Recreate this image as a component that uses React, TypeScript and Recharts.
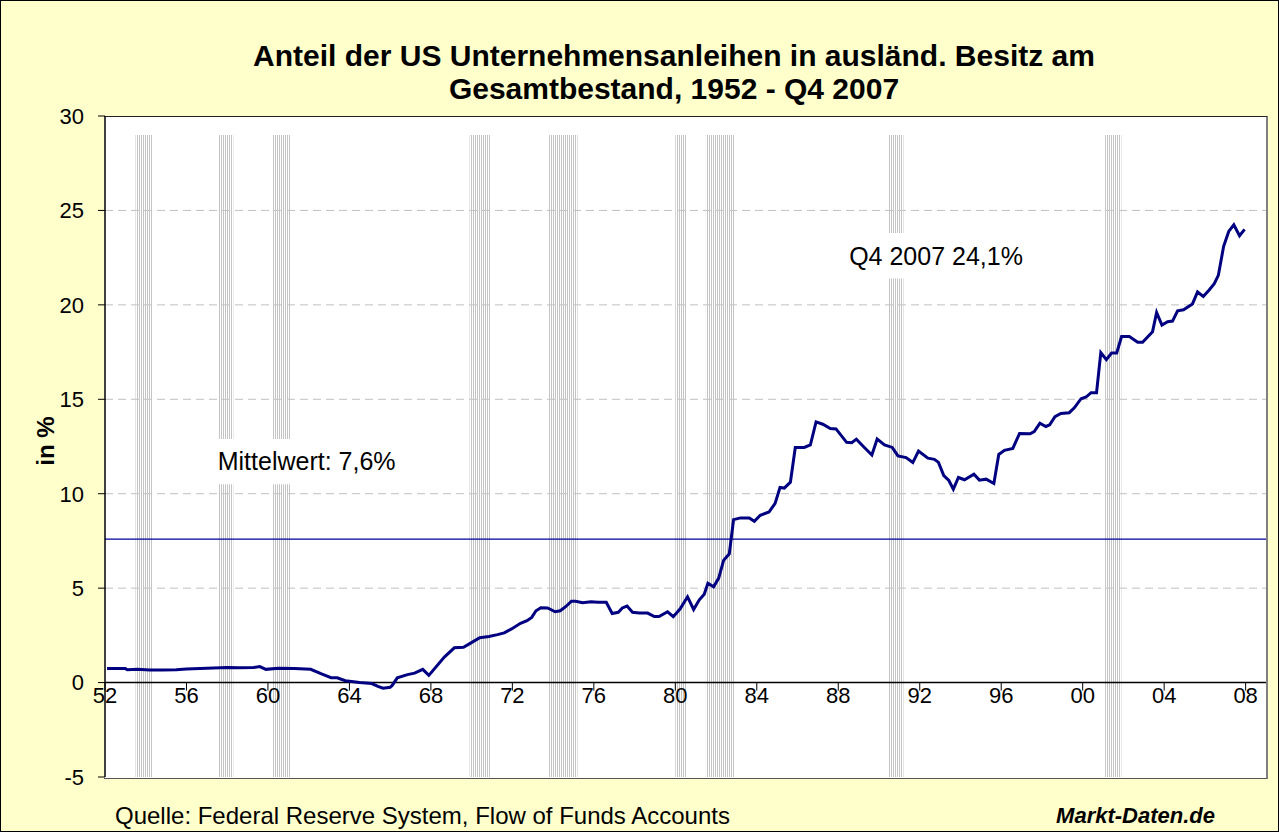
import React from 'react'
import {
  LineChart,
  Line,
  XAxis,
  YAxis,
  CartesianGrid,
  ReferenceArea,
  ReferenceLine,
} from 'recharts'

// quarter position (year fraction) and share of foreign holdings in %
const quarters = [
  1952.1, 1952.6, 1953.0, 1953.1, 1953.6, 1954.2, 1954.8, 1955.5, 1956.0, 1957.0,
  1958.0, 1958.6, 1959.3, 1959.6, 1959.9, 1960.5, 1961.3, 1962.1, 1962.6, 1963.1,
  1963.4, 1963.8, 1964.5, 1965.1, 1965.4, 1965.65, 1966.0, 1966.1, 1966.35, 1966.85,
  1967.2, 1967.6, 1967.9, 1968.66, 1969.15, 1969.6, 1969.97, 1970.4, 1970.85, 1971.27,
  1971.6, 1971.96, 1972.4, 1972.72, 1972.95, 1973.16, 1973.4, 1973.73, 1974.1, 1974.35,
  1974.63, 1974.9, 1975.1, 1975.45, 1975.86, 1976.2, 1976.61, 1976.9, 1977.2, 1977.4,
  1977.63, 1977.9, 1978.23, 1978.64, 1978.97, 1979.2, 1979.62, 1979.9, 1980.23, 1980.6,
  1980.9, 1981.17, 1981.42, 1981.6, 1981.88, 1982.13, 1982.37, 1982.65, 1982.86, 1983.2,
  1983.63, 1983.88, 1984.17, 1984.6, 1984.9, 1985.14, 1985.35, 1985.65, 1985.89, 1986.33,
  1986.63, 1986.91, 1987.24, 1987.61, 1987.89, 1988.41, 1988.66, 1988.89, 1989.28, 1989.65,
  1989.91, 1990.27, 1990.65, 1990.93, 1991.33, 1991.66, 1991.94, 1992.4, 1992.72, 1992.92,
  1993.18, 1993.43, 1993.65, 1993.9, 1994.2, 1994.66, 1994.93, 1995.26, 1995.64, 1995.88,
  1996.16, 1996.57, 1996.9, 1997.42, 1997.62, 1997.9, 1998.19, 1998.38, 1998.64, 1998.93,
  1999.34, 1999.59, 1999.92, 2000.17, 2000.41, 2000.68, 2000.89, 2001.16, 2001.42, 2001.67,
  2001.91, 2002.29, 2002.7, 2002.94, 2003.43, 2003.63, 2003.89, 2004.17, 2004.41, 2004.66,
  2004.95, 2005.39, 2005.64, 2005.92, 2006.21, 2006.46, 2006.66, 2006.92, 2007.17, 2007.42,
  2007.7, 2007.95,
]
const shares = [
  0.74, 0.74, 0.74, 0.68, 0.7, 0.66, 0.66, 0.68, 0.72, 0.76,
  0.8, 0.78, 0.8, 0.85, 0.7, 0.76, 0.74, 0.7, 0.47, 0.26,
  0.25, 0.1, 0.0, -0.05, -0.2, -0.3, -0.25, -0.15, 0.25, 0.42,
  0.5, 0.7, 0.38, 1.35, 1.84, 1.87, 2.1, 2.37, 2.44, 2.54,
  2.63, 2.84, 3.14, 3.28, 3.45, 3.8, 3.96, 3.95, 3.75, 3.8,
  4.03, 4.31, 4.31, 4.23, 4.28, 4.25, 4.25, 3.66, 3.72, 3.95,
  4.05, 3.72, 3.68, 3.68, 3.5, 3.5, 3.75, 3.49, 3.89, 4.54,
  3.87, 4.37, 4.68, 5.26, 5.07, 5.53, 6.47, 6.82, 8.63, 8.72,
  8.72, 8.54, 8.86, 9.03, 9.49, 10.33, 10.3, 10.61, 12.45, 12.45,
  12.58, 13.8, 13.68, 13.45, 13.43, 12.72, 12.7, 12.89, 12.45, 12.05,
  12.89, 12.58, 12.45, 12.0, 11.91, 11.65, 12.26, 11.88, 11.82, 11.66,
  10.96, 10.7, 10.24, 10.86, 10.74, 11.03, 10.72, 10.77, 10.54, 12.08,
  12.3, 12.4, 13.19, 13.17, 13.29, 13.73, 13.56, 13.65, 14.08, 14.25,
  14.29, 14.55, 15.03, 15.12, 15.35, 15.35, 17.47, 17.1, 17.45, 17.45,
  18.32, 18.32, 18.02, 18.02, 18.58, 19.6, 18.93, 19.11, 19.14, 19.68,
  19.74, 20.05, 20.68, 20.44, 20.79, 21.12, 21.56, 23.1, 23.89, 24.24,
  23.66, 24.0,
]

// NBER recessions (shaded bands)
const recessionStart = [1953.5, 1957.55, 1960.25, 1969.9, 1973.8, 1980.0, 1981.5, 1990.45, 2001.1]
const recessionEnd = [1954.35, 1958.3, 1961.1, 1970.9, 1975.2, 1980.55, 1982.9, 1991.2, 2001.9]

const yTicks = [-5, 0, 5, 10, 15, 20, 25, 30]
const xTicks = [1952, 1956, 1960, 1964, 1968, 1972, 1976, 1980, 1984, 1988, 1992, 1996, 2000, 2004, 2008]
const meanValue = 7.6

const W = 1279
const H = 832
const TOP = 115
const BOTTOM = 56
const LEFT = 104
const RIGHT = 14
const Y_MIN = -5
const Y_MAX = 30
const PLOT_H = H - TOP - BOTTOM
const ZERO_Y = TOP + (PLOT_H * Y_MAX) / (Y_MAX - Y_MIN)
const FONT = '"Liberation Sans", Arial, sans-serif'

const data = quarters.map((t, i) => ({ t, v: shares[i] }))

function XTick(props: any) {
  const { x, payload } = props
  return (
    <g>
      <line x1={x} x2={x} y1={ZERO_Y} y2={ZERO_Y + 8} stroke="#000" />
      <text x={x} y={ZERO_Y + 20} textAnchor="middle" fontSize={22} fill="#000" fontFamily={FONT}>
        {String(payload.value).slice(2)}
      </text>
    </g>
  )
}

export default function App() {
  return (
    <div
      style={{
        position: 'absolute',
        left: 0,
        top: 0,
        width: W,
        height: H,
        boxSizing: 'border-box',
        border: '1px solid #000',
        background: '#FFFFCC',
        fontFamily: FONT,
        color: '#000',
      }}
    >
      <div
        style={{
          position: 'absolute',
          left: 673 - 600,
          top: 38,
          width: 1200,
          textAlign: 'center',
          fontSize: 30,
          fontWeight: 'bold',
          lineHeight: '33px',
        }}
      >
        Anteil der US Unternehmensanleihen in ausländ. Besitz am
        <br />
        Gesamtbestand, 1952 - Q4 2007
      </div>
      <div
        style={{
          position: 'absolute',
          left: LEFT - 1,
          top: TOP,
          width: W - LEFT - RIGHT + 3,
          height: PLOT_H + 2,
          boxSizing: 'border-box',
          background: '#fff',
          borderTop: '1px solid #222',
          borderRight: '2px solid #808080',
          borderBottom: '1px solid #555',
        }}
      />
      <div
        style={{
          position: 'absolute',
          left: 45,
          top: 440,
          transform: 'translate(-50%, -50%) rotate(-90deg)',
          fontSize: 24,
          fontWeight: 'bold',
          whiteSpace: 'nowrap',
        }}
      >
        in %
      </div>
      <div style={{ position: 'absolute', left: 0, top: 0 }}>
        <LineChart
          width={W}
          height={H}
          data={data}
          margin={{ top: TOP, right: RIGHT, bottom: BOTTOM - 1, left: LEFT - 50 }}
        >
          <defs>
            <pattern id="stripes" width="2" height="10" patternUnits="userSpaceOnUse">
              <rect x="0" y="0" width="1" height="10" fill="#c4c4c4" />
            </pattern>
          </defs>
          <CartesianGrid
            horizontal
            vertical={false}
            stroke="#c0c0c0"
            strokeDasharray="8 5"
            horizontalValues={[5, 10, 15, 20, 25]}
          />
          <XAxis
            dataKey="t"
            type="number"
            domain={[1952, 2009]}
            ticks={xTicks}
            interval={0}
            height={1}
            axisLine={false}
            tickLine={false}
            tick={(p: any) => <XTick {...p} />}
          />
          <YAxis
            type="number"
            domain={[Y_MIN, Y_MAX]}
            ticks={yTicks}
            interval={0}
            width={50}
            tickSize={7}
            tickMargin={14}
            axisLine={{ stroke: '#000', strokeWidth: 1.5 }}
            tickLine={{ stroke: '#000' }}
            tick={{ fill: '#000', fontSize: 22, fontFamily: FONT }}
          />
          {recessionStart.map((s, i) => (
            <ReferenceArea
              key={s}
              x1={s}
              x2={recessionEnd[i]}
              y1={-5}
              y2={29}
              fill="url(#stripes)"
              fillOpacity={1}
              stroke="none"
            />
          ))}
          <ReferenceArea
            x1={1956.9}
            x2={1966.9}
            y1={10.5}
            y2={12.9}
            fill="#fff"
            fillOpacity={1}
            stroke="none"
            label={{ value: 'Mittelwert: 7,6%', position: 'center', fill: '#000', fontSize: 25, fontFamily: FONT }}
          />
          <ReferenceArea
            x1={1988.1}
            x2={1997.5}
            y1={21.4}
            y2={23.8}
            fill="#fff"
            fillOpacity={1}
            stroke="none"
            label={{ value: 'Q4 2007 24,1%', position: 'center', fill: '#000', fontSize: 25, fontFamily: FONT }}
          />
          <ReferenceLine y={meanValue} stroke="#00009c" strokeWidth={1.2} />
          <ReferenceLine y={0} stroke="#000" strokeWidth={1.5} />
          <Line
            type="linear"
            dataKey="v"
            stroke="#000080"
            strokeWidth={3}
            dot={false}
            activeDot={false}
            isAnimationActive={false}
          />
        </LineChart>
      </div>
      <div style={{ position: 'absolute', left: 114, top: 802, fontSize: 24, lineHeight: '26px' }}>
        Quelle: Federal Reserve System, Flow of Funds Accounts
      </div>
      <div
        style={{
          position: 'absolute',
          right: 63,
          top: 802,
          fontSize: 22,
          lineHeight: '26px',
          fontWeight: 'bold',
          fontStyle: 'italic',
        }}
      >
        Markt-Daten.de
      </div>
    </div>
  )
}
